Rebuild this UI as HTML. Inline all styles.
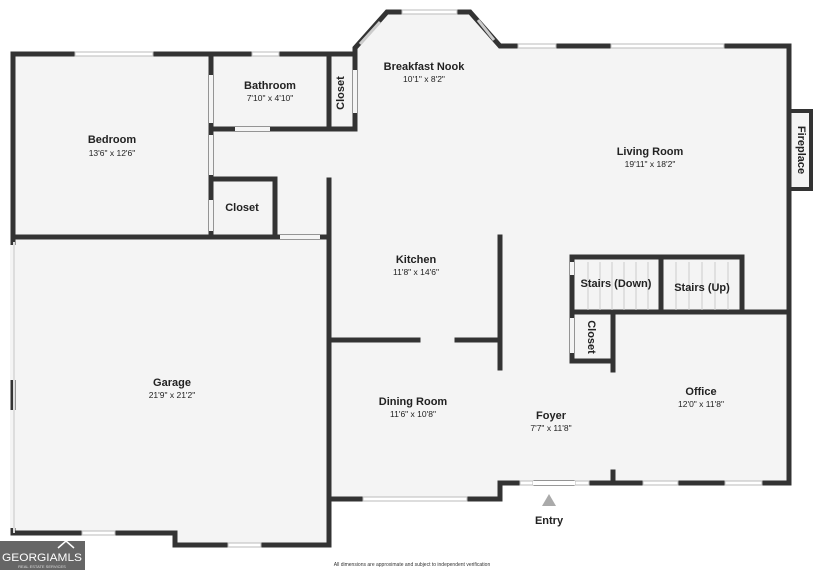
<!DOCTYPE html>
<html><head><meta charset="utf-8"><style>
body{margin:0;background:#fff;}
svg{display:block;font-family:"Liberation Sans",sans-serif;}
.t{font-weight:bold;font-size:11px;fill:#222;text-anchor:middle;}
.d{font-size:8.5px;fill:#222;text-anchor:middle;}
.w{stroke:#333;stroke-width:5;fill:none;stroke-linecap:square;}
.win{stroke:#bbb;stroke-width:1;fill:#fff;}
</style></head><body>
<svg width="825" height="570" viewBox="0 0 825 570">
<polygon fill="#f4f4f4" points="13,54 355,54 355,48 387,12 470,12 500,46 789,46 789,483 500,483 500,499 329,499 329,545 175,545 175,533 13,533"/>
<rect x="789" y="111" width="22" height="78" fill="#f4f4f4" stroke="#333" stroke-width="4"/>
<g class="w">
<polyline points="13,533 13,54 355,54"/>
<polyline points="355,54 355,48 387,12 470,12 500,46 789,46 789,483 500,483 500,499 329,499 329,545 175,545 175,533 13,533"/>
<line x1="13" y1="237" x2="329" y2="237"/>
<line x1="211" y1="54" x2="211" y2="237"/>
<line x1="211" y1="129" x2="355" y2="129"/>
<line x1="329" y1="54" x2="329" y2="129"/>
<line x1="355" y1="54" x2="355" y2="129"/>
<polyline points="211,179 275,179 275,237"/>
<line x1="329" y1="180" x2="329" y2="499"/>
<line x1="329" y1="340" x2="418" y2="340"/>
<line x1="457" y1="340" x2="500" y2="340"/>
<line x1="500" y1="237" x2="500" y2="368"/>
<polyline points="572,312 572,257 742,257 742,312"/>
<line x1="661" y1="257" x2="661" y2="312"/>
<line x1="572" y1="312" x2="789" y2="312"/>
<polyline points="572,312 572,361 613,361"/>
<line x1="613" y1="312" x2="613" y2="370"/>
<line x1="613" y1="472" x2="613" y2="483"/>
</g>
<g fill="#f4f4f4">
<rect x="209" y="75" width="4" height="48"/>
<rect x="209" y="135" width="4" height="40"/>
<rect x="209" y="200" width="4" height="31"/>
<rect x="235" y="127" width="35" height="4"/>
<rect x="353" y="70" width="4" height="43"/>
<rect x="280" y="235" width="40" height="4"/>
<rect x="570" y="262" width="4" height="13"/>
<rect x="570" y="318" width="4" height="35"/>
<rect x="10" y="245" width="6" height="135"/>
<rect x="10" y="410" width="6" height="118"/>
</g>
<g class="win">
<rect x="75" y="52" width="78" height="4"/>
<rect x="252" y="52" width="27" height="4"/>
<rect x="402" y="10" width="55" height="4"/>
<rect x="518" y="44" width="38" height="4"/>
<rect x="611" y="44" width="113" height="4"/>
<rect x="82" y="531" width="33" height="4"/>
<rect x="228" y="543" width="33" height="4"/>
<rect x="363" y="497" width="104" height="4"/>
<rect x="520" y="481" width="13" height="4"/>
<rect x="575" y="481" width="14" height="4"/>
<rect x="643" y="481" width="35" height="4"/>
<rect x="725" y="481" width="37" height="4"/>
</g>
<line x1="360" y1="44" x2="380" y2="22" stroke="#ccc" stroke-width="3"/>
<line x1="478" y1="20" x2="494" y2="40" stroke="#ccc" stroke-width="3"/>
<rect x="533" y="481" width="42" height="4" fill="#fff"/>
<rect x="13" y="242" width="2" height="291" fill="#ddd"/>
<g stroke="#ccc" stroke-width="1">
<line x1="588" y1="262" x2="588" y2="310"/><line x1="600" y1="262" x2="600" y2="310"/><line x1="612" y1="262" x2="612" y2="310"/><line x1="624" y1="262" x2="624" y2="310"/><line x1="636" y1="262" x2="636" y2="310"/><line x1="648" y1="262" x2="648" y2="310"/>
<line x1="676" y1="262" x2="676" y2="310"/><line x1="689" y1="262" x2="689" y2="310"/><line x1="702" y1="262" x2="702" y2="310"/><line x1="715" y1="262" x2="715" y2="310"/><line x1="728" y1="262" x2="728" y2="310"/>
</g>
<polygon points="549,494 542,506 556,506" fill="#aaa"/>
<text class="t" x="424" y="70">Breakfast Nook</text><text class="d" x="424" y="82">10'1" x 8'2"</text>
<text class="t" x="270" y="89">Bathroom</text><text class="d" x="270" y="101">7'10" x 4'10"</text>
<text class="t" x="112" y="143">Bedroom</text><text class="d" x="112" y="156">13'6" x 12'6"</text>
<text class="t" x="242" y="211">Closet</text>
<text class="t" x="0" y="0" transform="translate(344,93) rotate(-90)">Closet</text>
<text class="t" x="650" y="155">Living Room</text><text class="d" x="650" y="167">19'11" x 18'2"</text>
<text class="t" x="0" y="0" transform="translate(798,150) rotate(90)">Fireplace</text>
<text class="t" x="416" y="263">Kitchen</text><text class="d" x="416" y="275">11'8" x 14'6"</text>
<text class="t" x="616" y="287">Stairs (Down)</text>
<text class="t" x="702" y="291">Stairs (Up)</text>
<text class="t" x="0" y="0" transform="translate(588,337) rotate(90)">Closet</text>
<text class="t" x="172" y="386">Garage</text><text class="d" x="172" y="398">21'9" x 21'2"</text>
<text class="t" x="413" y="405">Dining Room</text><text class="d" x="413" y="417">11'6" x 10'8"</text>
<text class="t" x="551" y="419">Foyer</text><text class="d" x="551" y="431">7'7" x 11'8"</text>
<text class="t" x="701" y="395">Office</text><text class="d" x="701" y="407">12'0" x 11'8"</text>
<text class="t" x="549" y="524">Entry</text>
<rect x="0" y="541" width="85" height="29" fill="#666"/>
<polyline points="58,548 66,541 74,548" fill="none" stroke="#fff" stroke-width="1.5"/>
<text x="42" y="561" fill="#fff" font-size="11" text-anchor="middle" textLength="80" lengthAdjust="spacingAndGlyphs">GEORGIAMLS</text>
<text x="42" y="568" fill="#ddd" font-size="4" text-anchor="middle">REAL ESTATE SERVICES</text>
<text x="412" y="566" font-size="5" fill="#333" text-anchor="middle">All dimensions are approximate and subject to independent verification</text>
</svg>
</body></html>
